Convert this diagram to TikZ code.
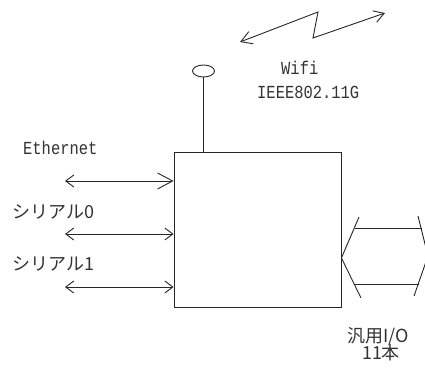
\documentclass[tikz,border=0pt]{standalone}
\usepackage{fontspec}
\newfontfamily\jpfont{Noto Sans CJK JP}
\newfontfamily\latfont[FakeStretch=0.84]{Liberation Mono}
\usetikzlibrary{arrows.meta,shapes.geometric}
\begin{document}
\begin{tikzpicture}[x=1pt,y=-1pt,
  ln/.style={line width=0.9pt, draw=black!85},
  dbl/.style={ln, {Straight Barb[length=8pt,width=12pt]}-{Straight Barb[length=8pt,width=12pt]}},
  lat/.style={font=\latfont\fontsize{18.4}{20}\selectfont, inner sep=0pt, anchor=west, text=black!80},
  jp/.style={font=\jpfont\fontsize{18}{20}\selectfont, inner sep=0pt, anchor=west, text=black!80}]
\useasboundingbox (0,0) rectangle (425,371);
\clip (0,0) rectangle (425,371);
% main box
\node[ln, draw, rectangle, minimum width=167pt, minimum height=155pt, inner sep=0pt] (box) at (257.5,229.5) {};
% antenna
\node[ln, draw, ellipse, minimum width=22pt, minimum height=12pt, inner sep=0pt] (ant) at (203.5,71) {};
\draw[ln] (ant.south) -- (ant.south |- box.north);
% wifi lightning
\coordinate (w1) at (240,42);
\coordinate (w2) at (318,12);
\coordinate (w3) at (313,38);
\coordinate (w4) at (385,13);
\draw[ln, {Straight Barb[length=11pt,width=13pt]}-{Straight Barb[length=10pt,width=12pt]}] (w1) -- (w2) -- (w3) -- (w4);
% left connectors
\coordinate (e) at (65,181);
\coordinate (s0c) at (65,234);
\coordinate (s1c) at (65,287);
\draw[ln, {Straight Barb[length=8pt,width=12pt]}-{Straight Barb[length=15pt,width=16pt]}] (e) -- (e -| box.west);
\draw[dbl] (s0c) -- (s0c -| box.west);
\draw[dbl] (s1c) -- (s1c -| box.west);
% general I/O bus
\coordinate (bt) at (box.east |- 0,258);
\coordinate (b1) at (359,217);
\coordinate (b2) at (361,298);
\coordinate (h1) at (355,228);
\coordinate (h2) at (422,228);
\coordinate (h3) at (354,284);
\coordinate (h4) at (419,284);
\coordinate (r1) at (418,216);
\coordinate (r2) at (428,256);
\coordinate (r3) at (414,296);
\draw[ln] (b1) -- (bt) -- (b2);
\draw[ln] (h1) -- (h2);
\draw[ln] (h3) -- (h4);
\draw[ln] (r1) -- (r2) -- (r3);
% texts
\node[lat] (wifi) at (281,68) {Wifi};
\node[lat] (ieee) at (257,92) {IEEE802.11G};
\node[lat] (eth) at (23,148) {Ethernet};
\node[jp] (s0) at (12,212) {シリアル0};
\node[jp] (s1) at (12,264) {シリアル1};
\node[jp, anchor=center] (io) at (378,337) {汎用I/O};
\node[jp, anchor=center] (n11) at (381,353) {11本};
\end{tikzpicture}
\end{document}
